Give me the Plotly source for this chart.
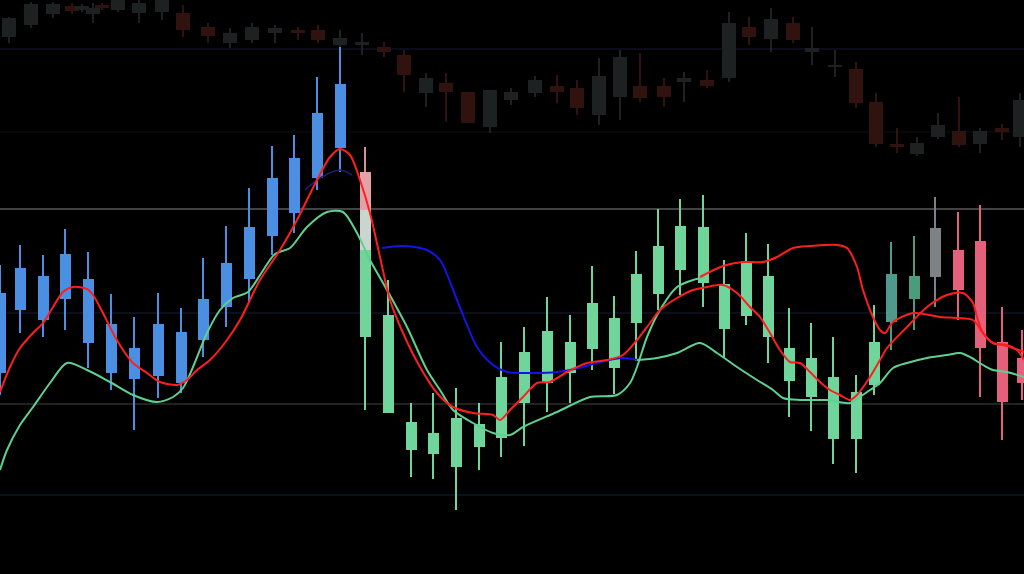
import plotly.graph_objects as go

# ---------------- foreground candles (chart units: y grows downward) ----------------
cx = [0, 20, 43, 65, 88, 111, 134, 158, 181, 203, 226, 249, 272, 294, 317, 340, 365, 388, 411, 433,
      456, 479, 501, 524, 547, 570, 592, 614, 636, 658, 680, 703, 724, 746, 768, 789, 811, 833, 856,
      874, 891, 914, 935, 958, 980, 1002, 1022]
c_high = [265, 245, 255, 229, 252, 294, 317, 293, 308, 258, 226, 188, 146, 135, 77, 47, 147, 280, 403, 393,
          388, 403, 342, 327, 297, 315, 266, 296, 251, 209, 199, 195, 260, 233, 244, 308, 323, 337, 375,
          305, 242, 236, 197, 212, 205, 307, 330]
c_top = [293, 268, 276, 254, 279, 324, 348, 324, 332, 299, 263, 227, 178, 158, 113, 84, 172, 315, 422, 433,
         418, 424, 377, 352, 331, 342, 303, 318, 274, 246, 226, 227, 284, 261, 276, 348, 358, 377, 392,
         342, 274, 276, 228, 250, 241, 342, 358]
c_bot = [373, 310, 320, 299, 343, 373, 379, 376, 383, 340, 307, 279, 236, 213, 178, 148, 337, 413, 450, 454,
         467, 447, 438, 403, 383, 373, 349, 368, 323, 294, 270, 283, 329, 316, 337, 381, 397, 439, 439,
         385, 322, 299, 277, 290, 348, 402, 383]
c_low = [395, 333, 337, 330, 368, 390, 430, 398, 393, 357, 327, 303, 255, 233, 190, 172, 410, 413, 477, 479,
         510, 470, 457, 446, 412, 403, 370, 394, 361, 310, 295, 307, 357, 325, 363, 417, 431, 464, 473,
         395, 350, 330, 307, 320, 397, 440, 400]
BLUE, GREEN, TEAL1, TEAL2, GREY, PINK = "#4b8fe3", "#6fd59b", "#4f9a8c", "#4a9c7c", "#7e8185", "#e5607a"
c_col = [BLUE] * 16 + [GREEN] * 24 + [TEAL1, TEAL2, GREY, PINK, PINK, PINK, PINK]

# colour accents on the transition candle
acc_x = [365, 365, 365]
acc_top = [147, 172, 210]
acc_bot = [172, 210, 250]
acc_w = [2, 11, 11]
acc_col = ["#d88e98", "#e3a2aa", "#c9d6cf"]

# ---------------- faded background candles ----------------
bx = [9, 31, 53, 72, 82, 93, 102, 118, 139, 162, 183, 208, 230, 252, 275, 298, 318, 340, 362, 384, 404,
      426, 446, 468, 490, 511, 535, 557, 577, 599, 620, 640, 664, 684, 707, 729, 749, 771, 793, 812, 835,
      856, 876, 897, 917, 938, 959, 980, 1002, 1020]
b_high = [17, 2, 2, 3, 4, 3, 3, 0, 0, 0, 5, 23, 28, 23, 25, 27, 25, 30, 33, 42, 50,
          73, 73, 92, 90, 88, 76, 75, 80, 58, 50, 53, 78, 72, 70, 12, 17, 8, 17, 27, 50,
          62, 93, 128, 137, 113, 97, 128, 124, 93]
b_top = [18, 4, 4, 6, 6, 8, 5, 0, 3, 0, 13, 27, 33, 27, 28, 30, 30, 38, 42, 47, 55,
         78, 83, 92, 90, 92, 80, 86, 88, 76, 57, 86, 86, 78, 80, 23, 27, 19, 23, 48, 65,
         69, 102, 144, 143, 125, 131, 131, 128, 100]
b_bot = [37, 25, 14, 11, 10, 14, 8, 10, 13, 12, 30, 36, 43, 40, 33, 33, 40, 45, 45, 52, 75,
         93, 92, 123, 127, 100, 93, 92, 108, 115, 97, 98, 97, 82, 86, 78, 37, 39, 40, 52, 67,
         103, 144, 147, 154, 137, 145, 144, 132, 137]
b_low = [43, 28, 18, 14, 12, 23, 10, 12, 23, 20, 37, 43, 48, 43, 43, 40, 43, 50, 55, 57, 92,
         107, 122, 123, 133, 105, 97, 103, 115, 125, 120, 102, 107, 102, 88, 82, 45, 52, 43, 65, 77,
         108, 147, 153, 156, 139, 147, 153, 140, 147]
DG, DR = "#1d2121", "#30130e"
b_col = [DG, DG, DG, DR, DG, DG, DR, DG, DG, DG, DR, DR, DG, DG, DG, DR, DR, DG, DG, DR, DR,
         DG, DR, DR, DG, DG, DG, DR, DR, DG, DG, DR, DR, DG, DR, DG, DR, DG, DR, DG, DG,
         DR, DR, DR, DG, DG, DR, DG, DR, DG]

# ---------------- indicator lines ----------------
red1_x = [0, 10, 20, 33, 43, 53, 63, 73, 87, 93, 103, 113, 123, 133, 147, 160, 177, 187, 197, 210, 227, 240,
          260, 280, 297, 317, 330, 340, 350, 360, 370, 380, 390, 403, 420, 437, 453, 473, 493, 500, 510,
          523, 537, 550, 567, 587, 607, 623, 637, 650, 660, 677, 693, 707, 723, 737, 750, 760, 770, 780,
          790, 800, 810, 820, 830, 840, 850, 857, 870, 880, 887, 907, 927, 947, 963, 973, 977, 983, 993,
          1007, 1017, 1024]
red1_y = [392, 367, 348, 333, 323, 307, 292, 287, 289, 295, 313, 333, 350, 363, 373, 382, 385, 380, 370, 360,
          340, 320, 280, 250, 220, 180, 157, 149, 155, 180, 213, 257, 300, 333, 367, 393, 407, 413, 415,
          420, 410, 397, 383, 382, 372, 363, 360, 355, 340, 323, 310, 298, 290, 287, 285, 293, 307, 317,
          333, 350, 362, 363, 372, 382, 390, 395, 400, 395, 377, 360, 348, 327, 307, 295, 293, 303, 317,
          333, 343, 345, 350, 360]

green1_x = [0, 7, 20, 33, 50, 67, 87, 110, 133, 157, 173, 183, 193, 207, 220, 233, 248, 262, 275, 290, 307,
            327, 343, 357, 370, 387, 407, 427, 440, 453, 473, 493, 510, 523, 557, 590, 617, 630, 637, 647,
            660, 677, 693, 705]
green1_y = [470, 450, 425, 407, 383, 363, 370, 382, 395, 402, 397, 388, 367, 333, 310, 298, 292, 272, 254, 248,
            227, 212, 212, 233, 260, 290, 327, 370, 390, 410, 423, 433, 435, 427, 412, 397, 395, 383, 367,
            337, 310, 287, 280, 277]

red2_x = [700, 723, 743, 763, 777, 793, 810, 837, 847, 857, 863, 873, 880, 885, 893, 913, 940, 957, 973,
          983, 993, 1007, 1024]
red2_y = [277, 266, 262, 262, 257, 248, 246, 245, 248, 267, 290, 317, 330, 333, 322, 313, 317, 318, 320,
          333, 343, 346, 352]

blue_x = [382, 400, 415, 427, 440, 457, 477, 493, 507, 533, 557, 583, 600, 623, 637]
blue_y = [248, 246, 247, 250, 260, 300, 347, 365, 372, 373, 372, 367, 362, 358, 360]

navy_x = [305, 320, 340, 352]
navy_y = [190, 178, 170, 175]

green2_x = [637, 657, 677, 700, 717, 737, 757, 773, 783, 800, 827, 850, 860, 870, 880, 893, 907, 927, 947,
            960, 970, 983, 993, 1007, 1024]
green2_y = [360, 358, 353, 343, 353, 367, 380, 390, 398, 400, 400, 403, 397, 390, 383, 368, 363, 358, 355,
            353, 357, 365, 370, 372, 377]

# horizontal reference levels
levels = [49, 132, 209, 313, 404, 495]
level_cols = ["#0e1024", "#0a0a0e", "#5a5a5e", "#121326", "#2e2e30", "#0d1824"]

fig = go.Figure()


def candles(x, hi, top, bot, lo, cols, bw, ww):
    fig.add_trace(go.Bar(x=x, y=[l - h for h, l in zip(hi, lo)], base=hi, width=ww,
                         marker=dict(color=cols, line=dict(width=0)), hoverinfo="skip", showlegend=False))
    fig.add_trace(go.Bar(x=x, y=[b - t for t, b in zip(top, bot)], base=top, width=bw,
                         marker=dict(color=cols, line=dict(width=0)), hoverinfo="skip", showlegend=False))


candles(bx, b_high, b_top, b_bot, b_low, b_col, 14, 2)
candles(cx, c_high, c_top, c_bot, c_low, c_col, 11, 2)
fig.add_trace(go.Bar(x=acc_x, y=[b - t for t, b in zip(acc_top, acc_bot)], base=acc_top, width=acc_w,
                     marker=dict(color=acc_col, line=dict(width=0)), hoverinfo="skip", showlegend=False))


def line(x, y, color, w=2):
    fig.add_trace(go.Scatter(x=x, y=y, mode="lines", line=dict(color=color, width=w, shape="spline", smoothing=0.8),
                             hoverinfo="skip", showlegend=False))


line(navy_x, navy_y, "#1c2070", 1.5)
line(green2_x, green2_y, "#5fd08f")
line(blue_x, blue_y, "#1414e6")
line(green1_x, green1_y, "#5fd08f")
line(red2_x, red2_y, "#ff1e1e")
line(red1_x, red1_y, "#ff1e1e")

for lv, lc in zip(levels, level_cols):
    fig.add_hline(y=lv, line=dict(color=lc, width=1.5), layer="below")

fig.update_layout(
    width=1024, height=574,
    margin=dict(l=0, r=0, t=0, b=0),
    paper_bgcolor="#000000", plot_bgcolor="#000000",
    barmode="overlay", bargap=0,
    xaxis=dict(range=[0, 1024], visible=False, fixedrange=True),
    yaxis=dict(range=[574, 0], visible=False, fixedrange=True),
)

fig.write_html("out.html", config={"displayModeBar": False},
               post_script="document.body.style.margin='0';document.body.style.background='#000';"
                           "document.body.style.overflow='hidden';")
